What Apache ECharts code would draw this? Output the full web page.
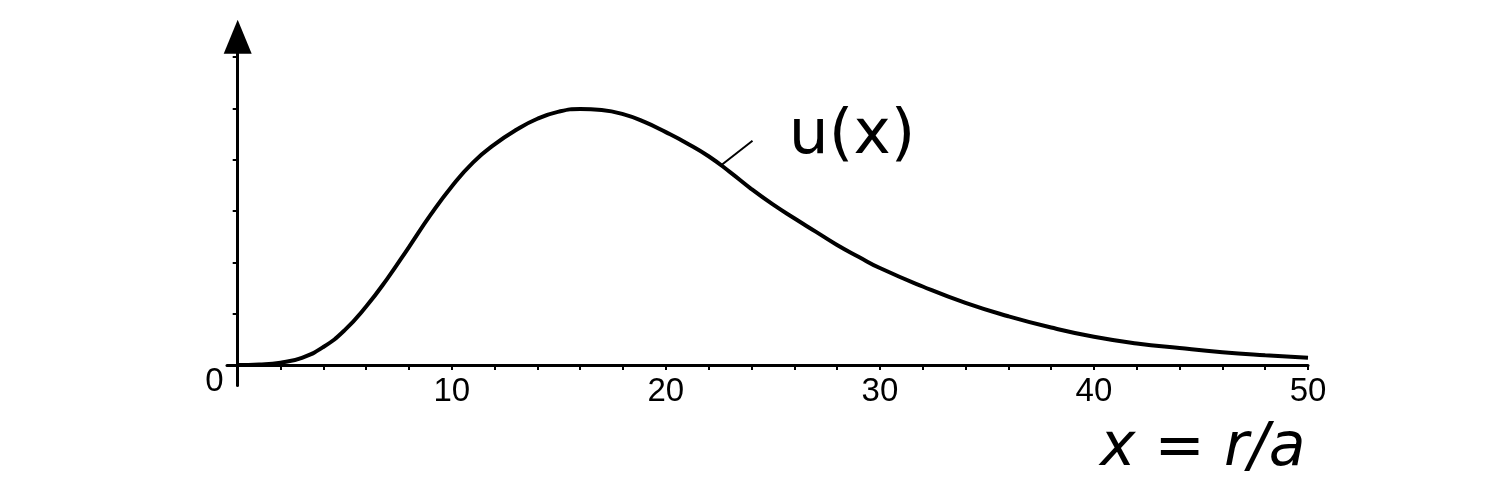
<!DOCTYPE html>
<html>
<head>
<meta charset="utf-8">
<script src="https://cdn.jsdelivr.net/npm/echarts@6/dist/echarts.min.js"></script>
<style>
  html, body { margin: 0; padding: 0; background: #fff; }
  #chart { width: 1504px; height: 479px; }
</style>
</head>
<body>
<div id="chart"></div>
<script>
// Data
const xValues = [0, 1, 2, 3, 4, 5, 6, 7, 8, 9, 10, 11, 12, 13, 14, 15, 16, 17, 18, 19, 20,
                 21, 22, 23, 24, 25, 26, 27, 28, 29, 30, 32, 34, 36, 38, 40, 42, 44, 46, 48, 50];
const uValues = [0, 0.01, 0.045, 0.14, 0.35, 0.68, 1.14, 1.69, 2.30, 2.92, 3.48, 3.95, 4.30, 4.58, 4.80, 4.94, 4.99, 4.97, 4.89, 4.74, 4.54,
                 4.32, 4.07, 3.76, 3.43, 3.13, 2.86, 2.60, 2.34, 2.11, 1.89, 1.53, 1.21, 0.95, 0.73, 0.55, 0.42, 0.33, 0.25, 0.19, 0.14];
const xTickValues = [2, 4, 6, 8, 10, 12, 14, 16, 18, 20, 22, 24, 26, 28, 30, 32, 34, 36, 38, 40, 42, 44, 46, 48, 50];
const xLabelValues = [10, 20, 30, 40, 50];
const yTickValues = [1, 2, 3, 4, 5, 6];
const yLabelValues = [0];
const curveName = 'u(x)';
const xAxisName = 'x = r/a';
const leaderStart = [22.6, 3.9];
const leaderEnd = [24.05, 4.37];
const curveLabelAt = [28.7, 4.45];

const seriesData = xValues.map((x, i) => [x, uValues[i]]);

const chart = echarts.init(document.getElementById('chart'), null, { renderer: 'canvas' });
chart.setOption({
  animation: false,
  backgroundColor: '#ffffff',
  grid: { left: 227, right: 196, top: 36.7, bottom: 93.5, containLabel: false, outerBoundsMode: 'none' },
  xAxis: {
    type: 'value',
    min: -0.5,
    max: 50,
    name: xAxisName,
    nameLocation: 'end',
    nameGap: -208,
    nameTextStyle: {
      fontFamily: 'DejaVu Sans',
      fontStyle: 'italic',
      fontSize: 60,
      color: '#000',
      align: 'left',
      verticalAlign: 'top',
      padding: [54, 0, 0, 0]
    },
    axisLine: { show: true, onZero: true, lineStyle: { color: '#000', width: 3 } },
    axisTick: { show: true, customValues: xTickValues, length: 5, lineStyle: { color: '#000', width: 2 } },
    axisLabel: {
      show: true, customValues: xLabelValues, margin: -10,
      fontFamily: 'Liberation Sans', fontSize: 33, color: '#000'
    },
    splitLine: { show: false }
  },
  yAxis: {
    type: 'value',
    min: -0.4,
    max: 6.4,
    axisLine: {
      show: true, onZero: true,
      symbol: ['none', 'triangle'],
      symbolSize: [28, 34],
      lineStyle: { color: '#000', width: 3 }
    },
    axisTick: { show: true, customValues: yTickValues, length: 5, lineStyle: { color: '#000', width: 2 } },
    axisLabel: {
      show: true, customValues: yLabelValues, margin: 3.5, verticalAlign: 'top',
      fontFamily: 'Liberation Sans', fontSize: 33, color: '#000'
    },
    splitLine: { show: false }
  },
  series: [{
    type: 'line',
    name: curveName,
    data: seriesData,
    smooth: true,
    symbol: 'none',
    lineStyle: { color: '#000', width: 4 },
    markLine: {
      silent: true,
      symbol: ['none', 'none'],
      label: { show: false },
      lineStyle: { color: '#000', width: 2, type: 'solid' },
      data: [[{ coord: leaderStart }, { coord: leaderEnd }]]
    },
    markPoint: {
      silent: true,
      symbol: 'circle',
      symbolSize: 1,
      itemStyle: { color: 'rgba(0,0,0,0)' },
      label: {
        show: true, position: 'inside', formatter: curveName,
        fontFamily: 'DejaVu Sans', fontSize: 63, color: '#000'
      },
      data: [{ coord: curveLabelAt }]
    }
  }]
});
</script>
</body>
</html>
